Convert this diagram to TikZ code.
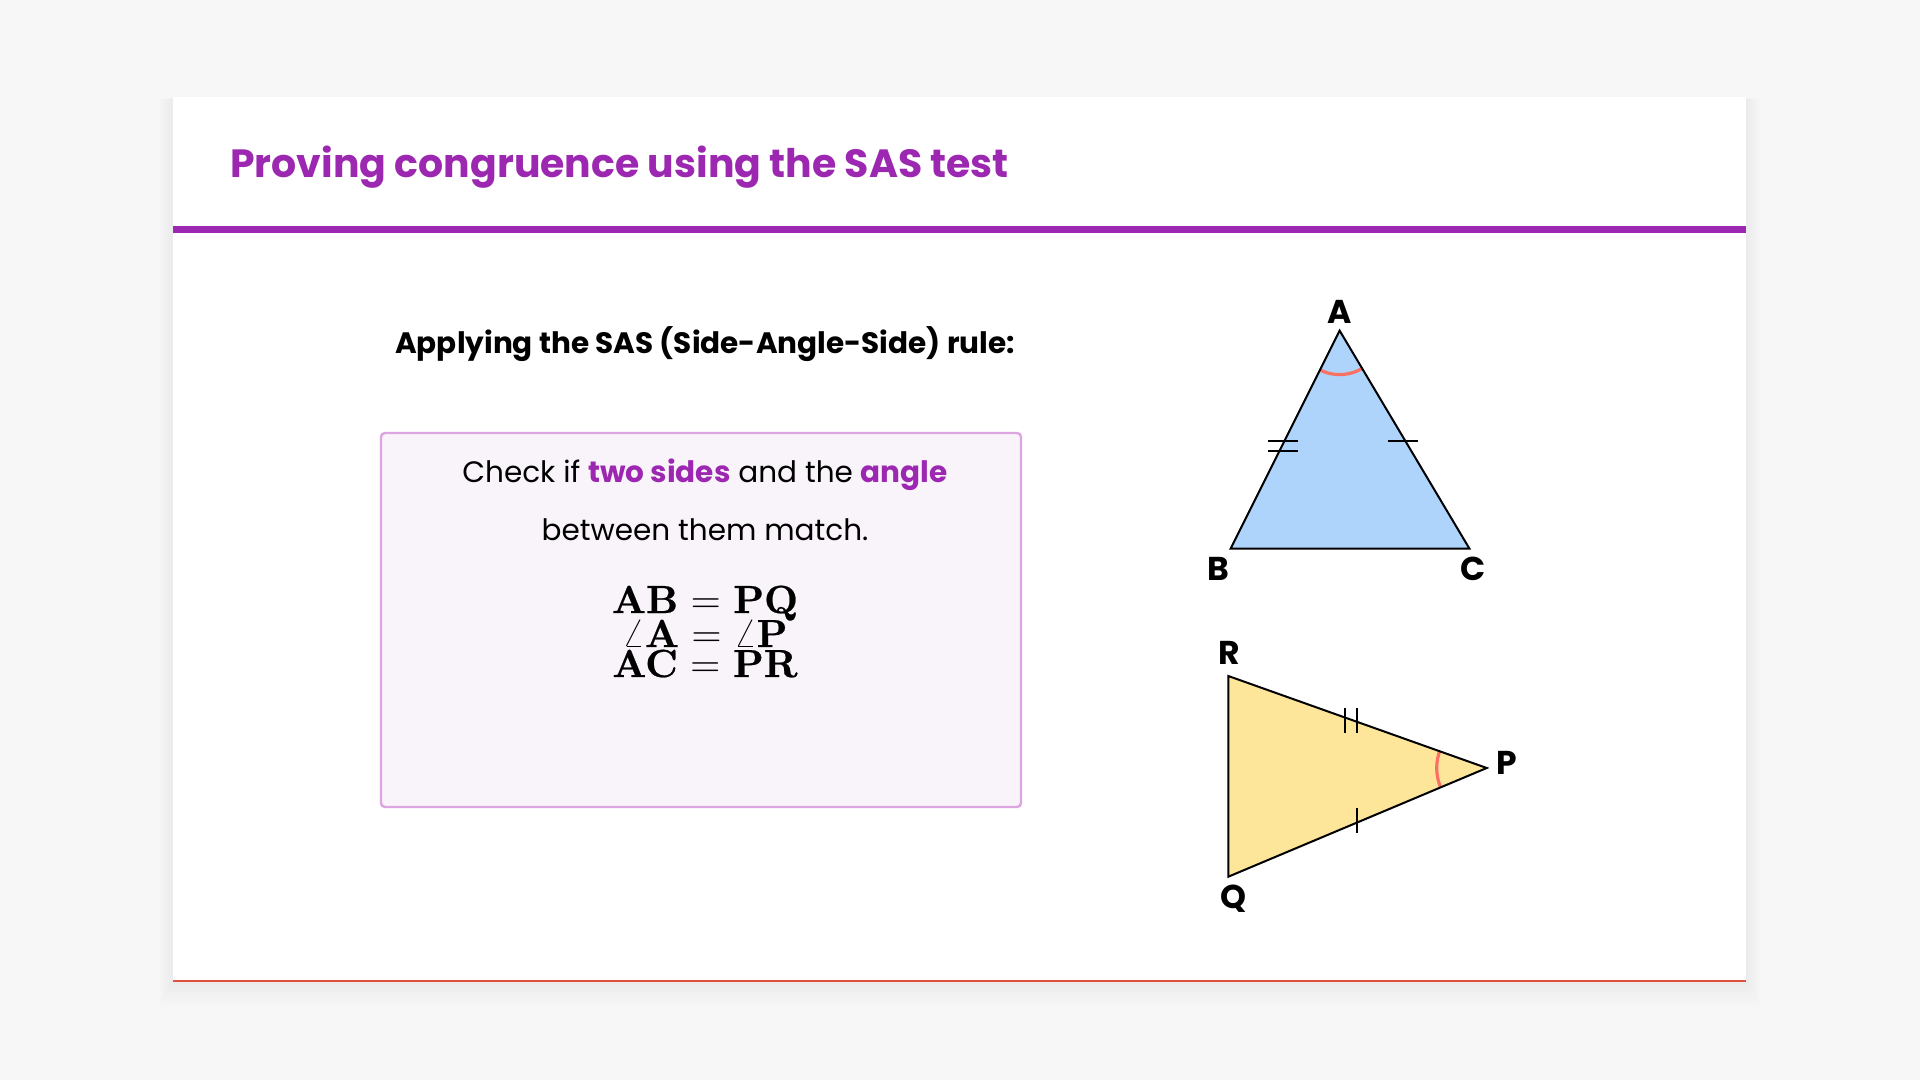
\documentclass[tikz,border=0pt]{standalone}
\usepackage[no-math]{fontspec}
\setmainfont{Poppins}
\newfontfamily\eqbf[FakeBold=0.6]{lmroman10-bold.otf}
\newcommand{\lmb}[1]{\mbox{\eqbf #1}}
\newcommand{\eqsign}{\mkern5.5mu{=}\mkern5.5mu}
\definecolor{pagebg}{RGB}{247,247,247}
\definecolor{ttl}{RGB}{156,39,176}
\definecolor{boxedge}{RGB}{221,165,226}
\definecolor{boxfill}{RGB}{249,243,250}
\definecolor{triblue}{RGB}{174,212,252}
\definecolor{triyellow}{RGB}{253,229,154}
\definecolor{arcred}{RGB}{250,112,98}
\definecolor{edgered}{RGB}{224,80,60}
\tikzset{
  tri/.style={draw=black,line width=1pt,line join=miter},
  tick/.style={draw=black,line width=1pt},
  anglearc/.style={draw=arcred,line width=1.6pt},
  vlabel/.style={font=\fontsize{16.5pt}{19pt}\selectfont\bfseries,inner sep=0pt},
  eqline/.style={anchor=base,inner sep=0pt,font=\fontsize{19.6pt}{22pt}\selectfont},
  bodytext/.style={anchor=base,inner sep=0pt,font=\fontsize{14.75pt}{17pt}\selectfont},
}
\begin{document}
\begin{tikzpicture}[x=0.5pt,y=-0.5pt]
\useasboundingbox (0,0) rectangle (1920,1080);
\fill[pagebg] (0,0) rectangle (1920,1080);
% card shadow
\foreach \i in {1,...,12}{
  \fill[black,opacity=0.005] (173-\i*1.2,97+\i*0.2) rectangle (1746+\i*1.2,981+\i*2.2);
}
% card
\fill[white] (173,97) rectangle (1746,981);
\draw[edgered,line width=0.6pt] (173,981) -- (1746,981);
% title
\node[anchor=base west,inner sep=0pt,text=ttl,font=\fontsize{19.7pt}{24pt}\selectfont\bfseries] (title) at (230,178) {Proving congruence using the SAS test};
\fill[ttl] (173,226) rectangle (1746,233);
% subtitle
\node[anchor=base,inner sep=0pt,font=\fontsize{14.75pt}{18pt}\selectfont\bfseries] (sub) at (705,354) {Applying the SAS (Side-Angle-Side) rule:};
% info box
\draw[draw=boxedge,fill=boxfill,line width=1.2pt,rounded corners=2pt] (381,433) rectangle (1021,807);
\node[bodytext] (l1) at (705,482.5) {Check if \textcolor{ttl}{\textbf{two sides}} and the \textcolor{ttl}{\textbf{angle}}};
\node[bodytext] (l2) at (705,540) {between them match.};
\node[eqline] (e1) at (705,613) {$\lmb{AB}\eqsign\lmb{PQ}$};
\node[eqline] (e2) at (705,647) {$\angle\lmb{A}\eqsign\angle\lmb{P}$};
\node[eqline] (e3) at (705,677) {$\lmb{AC}\eqsign\lmb{PR}$};
% triangle ABC
\coordinate (A) at (1339.6,330.6);
\coordinate (B) at (1230.6,548.6);
\coordinate (C) at (1469.4,548.6);
\fill[triblue] (A) -- (B) -- (C) -- cycle;
\begin{scope}
  \clip (A) -- (B) -- (C) -- cycle;
  \draw[anglearc] (A) circle[radius=44];
\end{scope}
\draw[tri] (A) -- (B) -- (C) -- cycle;
\draw[tick] (1268,440.7) -- (1298,440.7);
\draw[tick] (1268,450.7) -- (1298,450.7);
\draw[tick] (1388,440.7) -- (1418,440.7);
\node[vlabel] (lA) at (1339.6,312) {A};
\node[vlabel] (lB) at (1218,569) {B};
\node[vlabel] (lC) at (1473,569) {C};
% triangle PQR
\coordinate (R) at (1228.3,676);
\coordinate (Q) at (1228.3,876.7);
\coordinate (P) at (1486.7,768);
\fill[triyellow] (R) -- (Q) -- (P) -- cycle;
\begin{scope}
  \clip (R) -- (Q) -- (P) -- cycle;
  \draw[anglearc] (P) circle[radius=50];
\end{scope}
\draw[tri] (R) -- (Q) -- (P) -- cycle;
\draw[tick] (1345,708) -- (1345,733);
\draw[tick] (1356.7,708) -- (1356.7,733);
\draw[tick] (1356.7,808) -- (1356.7,833);
\node[vlabel] (lR) at (1229,652.6) {R};
\node[vlabel] (lP) at (1507,763) {P};
\node[vlabel] (lQ) at (1233,899) {Q};
\end{tikzpicture}
\end{document}
